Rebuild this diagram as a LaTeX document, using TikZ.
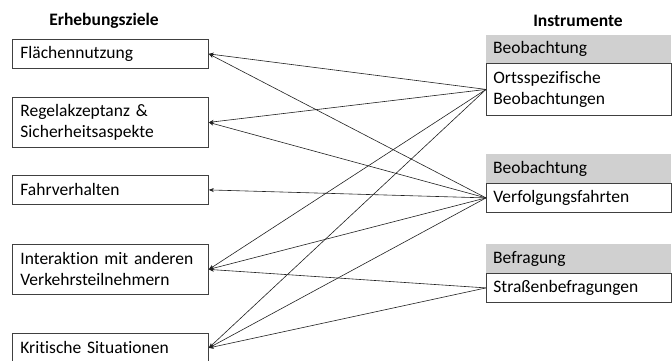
\documentclass[tikz,border=0pt]{standalone}
\usepackage{fontspec}
\setmainfont{Carlito}[Ligatures=NoCommon]
\usetikzlibrary{arrows.meta}
\definecolor{boxborder}{HTML}{404040}
\definecolor{headfill}{HTML}{D0D0D0}
\definecolor{linecol}{HTML}{202020}
\begin{document}
\begin{tikzpicture}[x=1pt,y=-1pt,
  txt/.style={font=\fontsize{17.5}{21}\selectfont},
  goal/.style={txt, draw=boxborder, line width=0.8pt, fill=white, anchor=north west,
    text width=180pt, inner xsep=8pt, inner ysep=0pt, align=left, minimum width=196pt},
  instr/.style={txt, draw=boxborder, line width=0.8pt, fill=white, anchor=north west,
    text width=171pt, inner xsep=7pt, inner ysep=0pt, align=left, minimum width=185pt},
  head/.style={txt, fill=headfill, anchor=north west,
    text width=171pt, inner xsep=7pt, inner ysep=0pt, align=left, minimum width=185pt},
  title/.style={font=\fontsize{17.5}{21}\selectfont\bfseries, inner sep=0pt},
  conn/.style={draw=linecol, line width=0.6pt, -{Stealth[length=5pt,width=4pt]}}]
\useasboundingbox (0,0) rectangle (672,360);
\clip (0,0) rectangle (672,360);

\node[title] (t1) at (104,21) {Erhebungsziele};
\node[title] (t2) at (578,21) {Instrumente};

\node[goal, minimum height=29pt] (g1) at (12,39) {Flächennutzung};
\node[goal, minimum height=50pt] (g2) at (12,97) {Regelakzeptanz \&\\Sicherheitsaspekte};
\node[goal, minimum height=29pt] (g3) at (12,175) {Fahrverhalten};
\node[goal, minimum height=50pt] (g4) at (12,244) {Interaktion mit anderen\\Verkehrsteilnehmern};
\node[goal, minimum height=29pt] (g5) at (12,333) {Kritische Situationen};

\node[head, minimum height=28pt] (h1) at (486,35) {Beobachtung};
\node[instr, minimum height=52pt] (i1) at (486,63) {Ortsspezifische\\Beobachtungen};
\node[head, minimum height=29pt] (h2) at (486,154) {Beobachtung};
\node[instr, minimum height=29pt] (i2) at (486,183) {Verfolgungsfahrten};
\node[head, minimum height=29pt] (h3) at (486,244) {Befragung};
\node[instr, minimum height=29pt] (i3) at (486,273) {Straßenbefragungen};

\draw[conn] (i1.west) -- (g1.east);
\draw[conn] (i1.west) -- (g2.east);
\draw[conn] (i1.west) -- (g4.east);
\draw[conn] (i1.west) -- (g5.east);
\draw[conn] (i2.west) -- (g1.east);
\draw[conn] (i2.west) -- (g2.east);
\draw[conn] (i2.west) -- (g3.east);
\draw[conn] (i2.west) -- (g4.east);
\draw[conn] (i2.west) -- (g5.east);
\draw[conn] (i3.west) -- (g4.east);
\draw[conn] (i3.west) -- (g5.east);
\end{tikzpicture}
\end{document}
